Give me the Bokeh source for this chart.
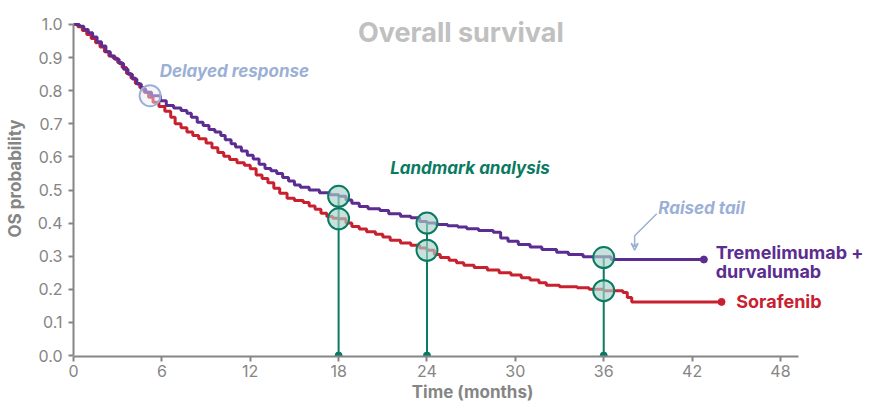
from bokeh.plotting import figure
from bokeh.models import Range1d, Label, Arrow, VeeHead, FixedTicker, NumeralTickFormatter
from bokeh.embed import file_html
from bokeh.resources import INLINE

# ---- data ----
td_time = [0, 0.4, 0.7, 1.0, 1.3, 1.6, 1.9, 2.2, 2.5, 2.8, 3.1, 3.4, 3.7, 4.0, 4.3, 4.6, 4.9,
           5.3, 5.9, 6.3, 6.8, 7.3, 7.7, 8.0, 8.4, 8.8, 9.2, 9.6, 10.0, 10.3, 10.7, 11.0, 11.4,
           11.8, 12.2, 12.6, 13.0, 13.4, 13.8, 14.2, 14.6, 15.0, 15.4, 16.0, 16.7, 17.4, 18.0,
           18.5, 18.9, 19.4, 20.0, 20.8, 21.4, 22.2, 22.9, 23.5, 24.0, 24.6, 25.4, 26.1, 26.7,
           27.5, 28.5, 29.0, 29.5, 30.2, 31.0, 31.8, 32.8, 33.6, 34.6, 36.5, 42.8]
td_surv = [1.0, 0.995, 0.985, 0.975, 0.962, 0.948, 0.935, 0.918, 0.905, 0.895, 0.882, 0.865,
           0.85, 0.835, 0.82, 0.805, 0.795, 0.785, 0.77, 0.755, 0.748, 0.74, 0.732, 0.72, 0.705,
           0.695, 0.683, 0.675, 0.665, 0.652, 0.64, 0.63, 0.618, 0.605, 0.594, 0.578, 0.565,
           0.558, 0.55, 0.538, 0.527, 0.515, 0.508, 0.5, 0.492, 0.486, 0.481, 0.47, 0.46, 0.45,
           0.443, 0.438, 0.428, 0.421, 0.416, 0.405, 0.40, 0.396, 0.392, 0.388, 0.383, 0.378,
           0.372, 0.355, 0.345, 0.335, 0.328, 0.32, 0.312, 0.305, 0.298, 0.29, 0.29]

sor_time = [0, 0.3, 0.6, 0.9, 1.2, 1.5, 1.8, 2.1, 2.4, 2.7, 3.0, 3.3, 3.6, 3.9, 4.2, 4.5, 4.8,
            5.1, 5.4, 5.8, 6.2, 6.6, 6.9, 7.3, 7.7, 8.1, 8.5, 9.0, 9.4, 9.8, 10.2, 10.6, 11.1,
            11.6, 12.0, 12.4, 12.8, 13.2, 13.6, 14.0, 14.5, 15.0, 15.6, 16.0, 16.4, 16.8, 17.2,
            17.6, 18.0, 18.5, 18.9, 19.4, 19.9, 20.5, 21.0, 21.5, 22.2, 22.9, 23.5, 24.0, 24.5,
            24.9, 25.5, 26.0, 26.5, 27.2, 28.1, 28.9, 29.7, 30.4, 31.0, 31.6, 32.1, 33.0, 34.2,
            35.0, 36.0, 37.3, 37.6, 37.9, 44.0]
sor_surv = [1.0, 0.993, 0.982, 0.97, 0.958, 0.945, 0.932, 0.918, 0.905, 0.898, 0.885, 0.87,
            0.852, 0.838, 0.822, 0.81, 0.795, 0.78, 0.765, 0.752, 0.738, 0.72, 0.70, 0.688,
            0.675, 0.665, 0.655, 0.642, 0.628, 0.613, 0.602, 0.592, 0.582, 0.575, 0.564, 0.545,
            0.535, 0.522, 0.505, 0.49, 0.475, 0.468, 0.462, 0.452, 0.442, 0.43, 0.42, 0.415,
            0.413, 0.40, 0.39, 0.382, 0.374, 0.366, 0.358, 0.348, 0.34, 0.333, 0.325, 0.318,
            0.305, 0.296, 0.288, 0.28, 0.273, 0.266, 0.258, 0.25, 0.243, 0.235, 0.228, 0.22,
            0.212, 0.208, 0.205, 0.2, 0.196, 0.19, 0.175, 0.162, 0.162]

landmark_months = [18, 24, 36]
landmark_td = [0.481, 0.40, 0.296]
landmark_sor = [0.413, 0.318, 0.196]

delayed_month = [5.2]
delayed_surv = [0.785]

x_ticks = [0, 6, 12, 18, 24, 30, 36, 42, 48]
y_ticks = [0.0, 0.1, 0.2, 0.3, 0.4, 0.5, 0.6, 0.7, 0.8, 0.9, 1.0]

# ---- styling ----
PURPLE = "#5c2d91"
RED = "#c8202f"
TEAL = "#0a7a62"
LIGHTBLUE = "#9bb0d6"
GREY = "#858585"
FONT = "Inter"

p = figure(width=871, height=406, output_backend="svg", toolbar_location=None,
           x_range=Range1d(0, 54.18), y_range=Range1d(-0.003, 1.0725),
           min_border_left=73, min_border_right=0, min_border_top=0, min_border_bottom=50)
p.outline_line_color = None
p.xgrid.grid_line_color = None
p.ygrid.grid_line_color = None

for ax in (p.xaxis[0], p.yaxis[0]):
    ax.axis_line_color = GREY
    ax.axis_line_width = 2
    ax.major_tick_line_color = GREY
    ax.major_tick_line_width = 2
    ax.major_tick_out = 5
    ax.major_tick_in = 0
    ax.minor_tick_line_color = None
    ax.major_label_text_color = GREY
    ax.major_label_text_font = FONT
    ax.major_label_text_font_size = "16px"
    ax.axis_label_text_color = GREY
    ax.axis_label_text_font = FONT
    ax.axis_label_text_font_style = "bold"
    ax.axis_label_text_font_size = "17px"

p.xaxis.ticker = FixedTicker(ticks=x_ticks)
p.yaxis.ticker = FixedTicker(ticks=y_ticks)
p.yaxis.formatter = NumeralTickFormatter(format="0.0")
p.xaxis.bounds = (0, 49.2)
p.yaxis.bounds = (0, 1)
p.xaxis.axis_label = "Time (months)"
p.yaxis.axis_label = "OS probability"
p.xaxis.axis_label_standoff = 2
p.xaxis.major_label_standoff = 3
p.yaxis.axis_label_standoff = 10
p.yaxis.major_label_standoff = 6

# curves
p.step(sor_time, sor_surv, mode="after", line_color=RED, line_width=3)
p.step(td_time, td_surv, mode="after", line_color=PURPLE, line_width=3)
p.scatter([td_time[-1]], [td_surv[-1]], size=7, color=PURPLE)
p.scatter([sor_time[-1]], [sor_surv[-1]], size=7, color=RED)

# landmark stems
p.segment(x0=landmark_months, y0=[0] * len(landmark_months), x1=landmark_months, y1=landmark_td,
          line_color=TEAL, line_width=2)
p.scatter(landmark_months, [0] * len(landmark_months), size=7, color=TEAL)
p.scatter(landmark_months + landmark_months, landmark_td + landmark_sor, size=21,
          fill_color="#a9d3ca", fill_alpha=0.65, line_color=TEAL, line_width=2)

# delayed response circle
p.scatter(delayed_month, delayed_surv, size=21, fill_color="#e6ebf5", fill_alpha=0.45,
          line_color=LIGHTBLUE, line_width=2)

# raised tail arrow
p.line([39.6, 38.1, 38.1], [0.428, 0.362, 0.33], line_color=LIGHTBLUE, line_width=1.5)
p.add_layout(Arrow(end=VeeHead(size=7, line_color=LIGHTBLUE, line_width=1.5, fill_color=None),
                   x_start=38.1, y_start=0.34, x_end=38.1, y_end=0.318,
                   line_color=LIGHTBLUE, line_width=1.5))

def lab(x, y, text, color, size, style, align="left"):
    p.add_layout(Label(x=x, y=y, text=text, text_color=color, text_font=FONT,
                       text_font_size=size, text_font_style=style, text_align=align,
                       text_baseline="middle"))

lab(26.3, 0.976, "Overall survival", "#c0c0c0", "27px", "bold", "center")
lab(5.85, 0.861, "Delayed response", LIGHTBLUE, "17px", "bold italic")
lab(21.5, 0.565, "Landmark analysis", TEAL, "17px", "bold italic")
lab(39.7, 0.447, "Raised tail", LIGHTBLUE, "17px", "bold italic")
lab(43.6, 0.312, "Tremelimumab +", PURPLE, "18px", "bold")
lab(43.6, 0.255, "durvalumab", PURPLE, "18px", "bold")
lab(45.0, 0.164, "Sorafenib", RED, "18px", "bold")

open("out.html", "w").write(file_html(p, INLINE))
